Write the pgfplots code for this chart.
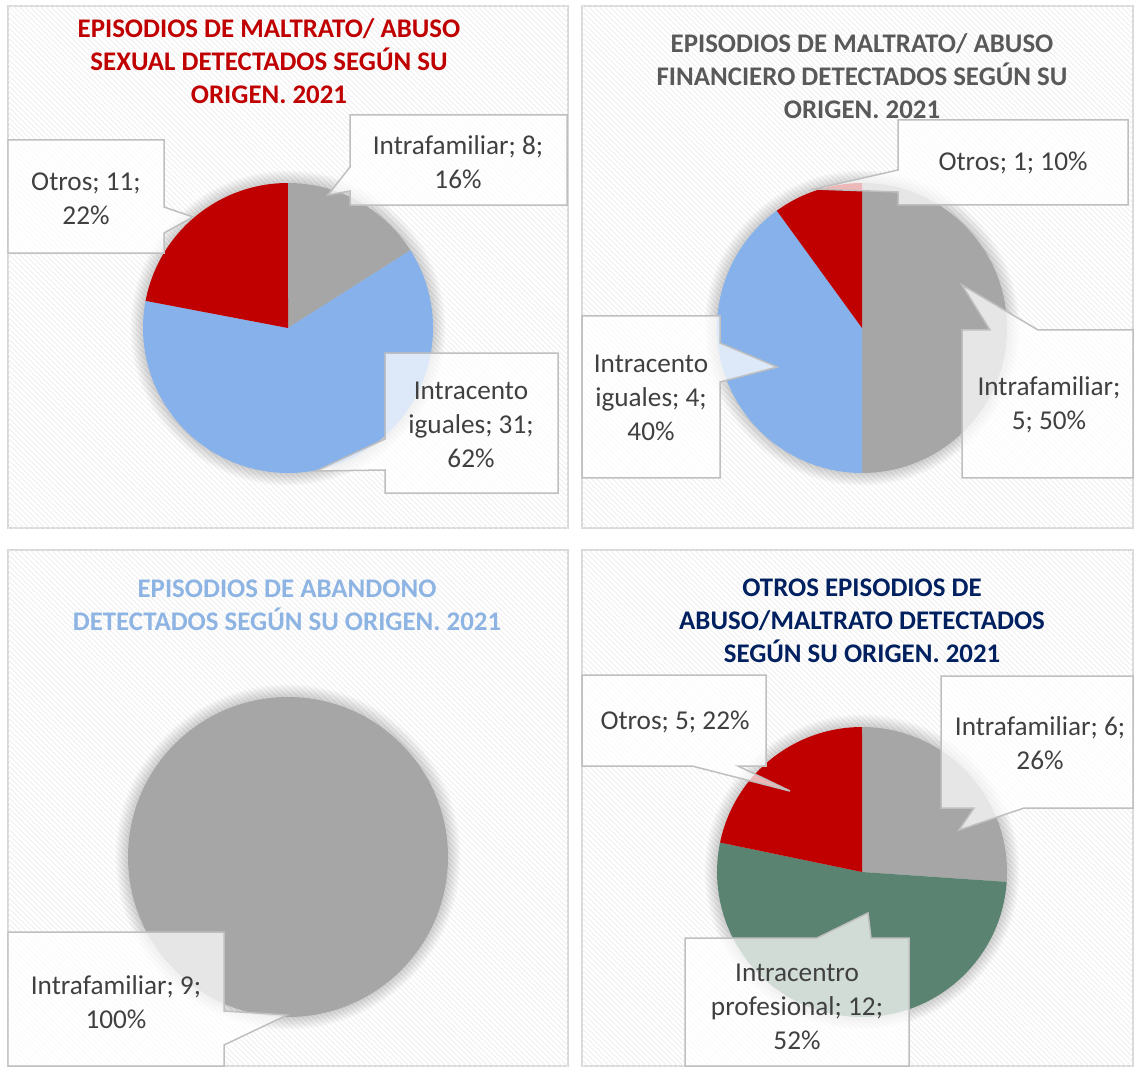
\documentclass[border=0pt]{standalone}
\usepackage{pgfplots}
\pgfplotsset{compat=1.18}
\usetikzlibrary{patterns}
\usepackage{fontspec}
\setmainfont{Carlito}

\definecolor{cGris}{HTML}{A6A6A6}
\definecolor{cAzul}{HTML}{86B1EA}
\definecolor{cRojo}{HTML}{C00000}
\definecolor{cVerde}{HTML}{5B8372}
\definecolor{cTexto}{HTML}{404040}
\definecolor{cBorde}{HTML}{D9D9D9}
\definecolor{cCaja}{HTML}{BFBFBF}
\definecolor{cTit2}{HTML}{595959}
\definecolor{cTit3}{HTML}{8DB4E2}
\definecolor{cTit4}{HTML}{002060}

% one pixel of the reference = 0.02cm
\pgfplotsset{
  panel/.style={
    x=0.02cm, y=0.02cm,
    xmin=0, xmax=1135, ymin=0, ymax=1068,
    y dir=reverse,
    hide axis, clip=false,
  },
}
\tikzset{
  fondo/.style={fill=white, draw=cBorde, line width=0.04cm},
  rayas/.style={pattern=north west lines, pattern color=black!7},
  callout/.style={fill=white, fill opacity=0.72, draw=cCaja, line width=0.03cm, line join=miter},
  etiq/.style={text=cTexto, align=center, font=\fontsize{15.5}{19.3}\selectfont},
  titulo/.style={align=center, font=\fontsize{15.3}{18.8}\selectfont\bfseries},
}

% #1 cx, #2 cy, #3 radius (px), #4 total, #5 list value/colour
\newcommand{\pie}[5]{%
  \pgfplotsextra{%
    \foreach \i in {1,...,9}{%
      \fill[black, opacity=0.02] (axis cs:#1,#2) circle[radius={(#3+\i*1.4)*0.02cm}];
    }%
    \gdef\ang{90}%
    \foreach \v/\col in {#5}{%
      \pgfmathsetmacro\en{\ang-\v/#4*360}%
      \fill[\col] (axis cs:#1,#2) -- ++(\ang:{#3*0.02cm})
        arc[start angle=\ang, end angle=\en, radius={#3*0.02cm}] -- cycle;
      \xdef\ang{\en}%
    }%
  }%
}

\begin{document}
\begin{tikzpicture}

% ---------- sexual ----------
\begin{axis}[panel]
\path (axis cs:0,0) rectangle (axis cs:1135,1068);
\filldraw[fondo] (axis cs:8,6) rectangle (axis cs:568,528);
\fill[rayas] (axis cs:8,6) rectangle (axis cs:568,528);
\pie{288}{328}{145}{50}{8/cGris, 31/cAzul, 11/cRojo}
\filldraw[callout] (axis cs:350,115) -- (axis cs:567,115) -- (axis cs:567,205) -- (axis cs:350,205)
  -- (axis cs:350,191) -- (axis cs:328,195) -- (axis cs:350,167) -- cycle;
\filldraw[callout] (axis cs:8,140) -- (axis cs:164,140) -- (axis cs:164,207) -- (axis cs:193,217)
  -- (axis cs:164,233) -- (axis cs:164,253) -- (axis cs:8,253) -- cycle;
\filldraw[callout] (axis cs:385,353) -- (axis cs:558,353) -- (axis cs:558,493) -- (axis cs:385,493)
  -- (axis cs:385,470) -- (axis cs:316,471) -- (axis cs:385,439) -- cycle;
\node[etiq] at (axis cs:458,162) {Intrafamiliar; 8;\\16\%};
\node[etiq] at (axis cs:86,199) {Otros; 11;\\22\%};
\node[etiq] at (axis cs:471,425) {Intracento\\iguales; 31;\\62\%};
\node[titulo, text=cRojo] at (axis cs:269,61) {EPISODIOS DE MALTRATO/ ABUSO\\SEXUAL DETECTADOS SEGÚN SU\\ORIGEN. 2021};
\end{axis}

% ---------- financiero ----------
\begin{axis}[panel]
\filldraw[fondo] (axis cs:582,6) rectangle (axis cs:1133,528);
\fill[rayas] (axis cs:582,6) rectangle (axis cs:1133,528);
\pie{862}{328}{145}{10}{5/cGris, 4/cAzul, 1/cRojo}
\filldraw[callout] (axis cs:898,120) -- (axis cs:1128,120) -- (axis cs:1128,205) -- (axis cs:898,205)
  -- (axis cs:898,192) -- (axis cs:815,189) -- (axis cs:898,170) -- cycle;
\filldraw[callout] (axis cs:962,330) -- (axis cs:990,330) -- (axis cs:962,285) -- (axis cs:1038,330)
  -- (axis cs:1133,330) -- (axis cs:1133,478) -- (axis cs:962,478) -- cycle;
\filldraw[callout] (axis cs:582,316) -- (axis cs:720,316) -- (axis cs:720,343) -- (axis cs:777,367)
  -- (axis cs:720,382) -- (axis cs:720,478) -- (axis cs:582,478) -- cycle;
\node[etiq] at (axis cs:1013,163) {Otros; 1; 10\%};
\node[etiq] at (axis cs:1049,405) {Intrafamiliar;\\5; 50\%};
\node[etiq] at (axis cs:651,398) {Intracento\\iguales; 4;\\40\%};
\node[titulo, text=cTit2] at (axis cs:862,76) {EPISODIOS DE MALTRATO/ ABUSO\\FINANCIERO DETECTADOS SEGÚN SU\\ORIGEN. 2021};
\end{axis}

% ---------- abandono ----------
\begin{axis}[panel]
\filldraw[fondo] (axis cs:8,550) rectangle (axis cs:568,1066);
\fill[rayas] (axis cs:8,550) rectangle (axis cs:568,1066);
\pie{288}{857}{160}{9}{9/cGris}
\filldraw[callout] (axis cs:8,932) -- (axis cs:224,932) -- (axis cs:224,1011) -- (axis cs:287,1015)
  -- (axis cs:224,1045) -- (axis cs:224,1066) -- (axis cs:8,1066) -- cycle;
\node[etiq] at (axis cs:116,1002) {Intrafamiliar; 9;\\100\%};
\node[titulo, text=cTit3] at (axis cs:287,605) {EPISODIOS DE ABANDONO\\DETECTADOS SEGÚN SU ORIGEN. 2021};
\end{axis}

% ---------- otros ----------
\begin{axis}[panel]
\filldraw[fondo] (axis cs:582,550) rectangle (axis cs:1133,1066);
\fill[rayas] (axis cs:582,550) rectangle (axis cs:1133,1066);
\pie{862}{872}{145}{23}{6/cGris, 12/cVerde, 5/cRojo}
\filldraw[callout] (axis cs:582,675) -- (axis cs:766,675) -- (axis cs:766,766) -- (axis cs:738,766)
  -- (axis cs:790,791) -- (axis cs:692,766) -- (axis cs:582,766) -- cycle;
\filldraw[callout] (axis cs:941,676) -- (axis cs:1133,676) -- (axis cs:1133,808) -- (axis cs:1024,808)
  -- (axis cs:959,830) -- (axis cs:974,808) -- (axis cs:941,808) -- cycle;
\filldraw[callout] (axis cs:685,938) -- (axis cs:817,938) -- (axis cs:868,913) -- (axis cs:871,938)
  -- (axis cs:909,938) -- (axis cs:909,1066) -- (axis cs:685,1066) -- cycle;
\node[etiq] at (axis cs:675,722) {Otros; 5; 22\%};
\node[etiq] at (axis cs:1040,743) {Intrafamiliar; 6;\\26\%};
\node[etiq] at (axis cs:797,1007) {Intracentro\\profesional; 12;\\52\%};
\node[titulo, text=cTit4] at (axis cs:862,621) {OTROS EPISODIOS DE\\ABUSO/MALTRATO DETECTADOS\\SEGÚN SU ORIGEN. 2021};
\end{axis}

\end{tikzpicture}
\end{document}
